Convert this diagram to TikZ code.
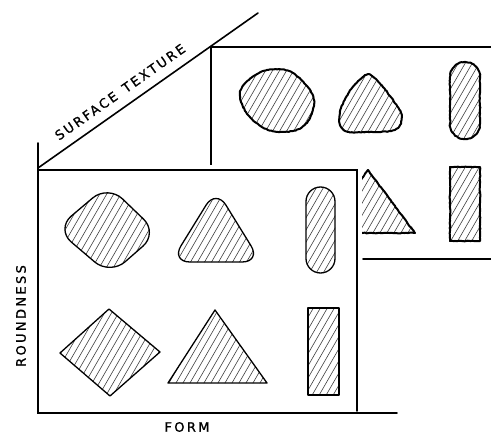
\documentclass[tikz,border=0pt]{standalone}
\usepackage{fontspec}
\newfontfamily\labfont[LetterSpace=18, FakeBold=1]{DejaVu Sans}
\usetikzlibrary{decorations.pathmorphing}
\pgfmathsetseed{11}
\tikzset{
  panel/.style={line width=1.6pt, line cap=round},
  fshape/.style={line width=1.3pt, line join=round},
  bshape/.style={line width=2pt, line join=round, decorate,
    decoration={random steps, segment length=1.8pt, amplitude=0.35pt}},
  hatchline/.style={line width=0.6pt, black!75},
  lab/.style={font=\labfont\fontsize{13}{14}\selectfont, inner sep=0pt},
}
\newcommand{\hshape}[3]{%
  \begin{scope}
    \clip #2;
    \foreach \k in {-16,...,16}
      \draw[hatchline] (#3) ++({\k*7-60},104) -- ++(120,-208);
  \end{scope}
  \draw[#1] #2;}
\begin{document}
\begin{tikzpicture}[x=1pt,y=-1pt]
\useasboundingbox[fill=white] (0,0) rectangle (491,434);
% back panel
\draw[panel] (491,47) -- (211,47) -- (211,165);
\draw[panel] (363,259) -- (491,259);
% back shapes
\hshape{bshape}{plot[smooth cycle, tension=0.6] coordinates {(240,93) (251,78) (268,70) (289,71) (306,85) (314,100) (310,118) (299,129) (280,132) (262,127) (246,112)}}{276,101}
\hshape{bshape}{plot[smooth cycle, tension=0.55] coordinates {(366,75) (376,79) (390,96) (401,113) (400,125) (391,131) (368,132) (349,132) (340,125) (341,108) (352,88)}}{370,104}
\hshape{bshape}{(450,77) arc[start angle=180, end angle=360, radius=15] -- (480,124) arc[start angle=0, end angle=180, radius=15] -- cycle}{465,100}
\hshape{bshape}{(450,167) rectangle (480,241)}{465,204}
\hshape{bshape}{(368,170) -- (415,233) -- (321,233) -- cycle}{368,205}
% front panel cover
\fill[white] (38,165) rectangle (362,413);
\draw[panel] (38,143) -- (38,413) -- (397,413);
\draw[panel] (38,168) -- (258,13);
\draw[panel] (38,170) -- (357,170) -- (357,411);
% front shapes
\hshape{fshape}{[rounded corners=20pt] (108,185) -- (158,233) -- (110,275) -- (56,229) -- cycle}{107,230}
\hshape{fshape}{[rounded corners=19pt] (216,189) -- (261,262) -- (171,262) -- cycle}{216,230}
\hshape{fshape}{[rounded corners=14.5pt] (306,187) rectangle (335,273)}{320,230}
\hshape{fshape}{(109,309) -- (160,352) -- (110,396) -- (60,353) -- cycle}{110,352}
\hshape{fshape}{(215,310) -- (267,383) -- (168,383) -- cycle}{216,350}
\hshape{fshape}{(308,308) rectangle (339,395)}{323,352}
% labels
\node[lab] (form) at (187,427) {FORM};
\node[lab, rotate=90] (round) at (21,316) {ROUNDNESS};
\node[lab, rotate=35.2] (surf) at (120,92) {SURFACE\hspace{0.7em}TEXTURE};
\end{tikzpicture}
\end{document}
